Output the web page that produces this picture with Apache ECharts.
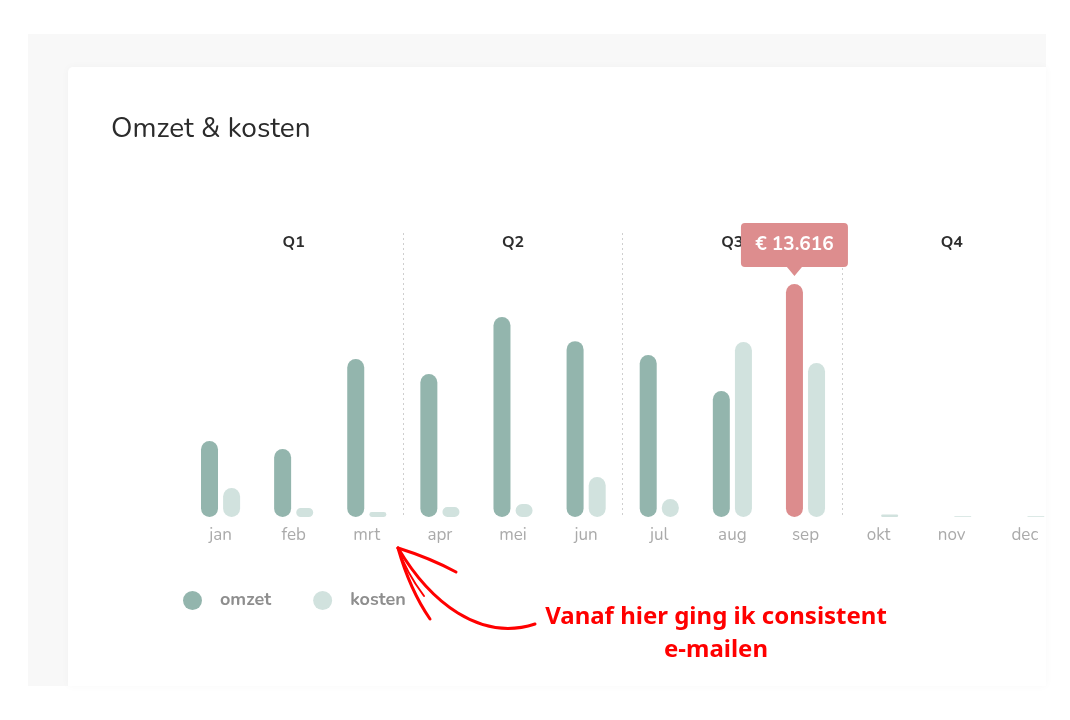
<!DOCTYPE html>
<html>
<head>
<meta charset="utf-8">
<script src="https://cdn.jsdelivr.net/npm/echarts@6/dist/echarts.min.js"></script>
<style>
html,body{margin:0;padding:0;background:#fff;}
#chart{width:1070px;height:720px;}
</style>
</head>
<body>
<div id="chart"></div>
<script>
const months = ['jan','feb','mrt','apr','mei','jun','jul','aug','sep','okt','nov','dec'];
const quarters = ['Q1','Q2','Q3','Q4'];
const omzet = [4440, 3970, 9230, 8360, 11690, 10280, 9470, 7360, 13616, 0, 0, 0];
const kosten = [1690, 530, 290, 580, 760, 2340, 1050, 10230, 9000, 150, 40, 40];
const highlightIndex = 8;
const seriesNames = ['omzet','kosten'];
const titleText = 'Omzet & kosten';
const noteLines = ['Vanaf hier ging ik consistent', 'e-mailen'];

const C_OMZET = '#93b5ad';
const C_KOSTEN = '#d1e2de';
const C_HI = '#dc8c8d';
const UI_FONT = 'Nunito, Lato, "Open Sans", sans-serif';

function fmtEuro(v){ return '€ ' + String(v).replace(/\B(?=(\d{3})+(?!\d))/g, '.'); }

const chart = echarts.init(document.getElementById('chart'), null, {renderer:'canvas'});
const arrowStroke = { fill: null, stroke: '#ff0000', lineWidth: 3, lineCap: 'round' };
const noteFont = 'bold 24px "Noto Sans", "Open Sans", sans-serif';
const option = {
  backgroundColor: '#ffffff',
  animation: false,
  textStyle: { fontFamily: UI_FONT },
  title: {
    text: titleText, left: 106, top: 111,
    textStyle: { fontFamily: UI_FONT, fontSize: 28, fontWeight: 'normal', color: '#2b2b2b' }
  },
  legend: {
    data: seriesNames, left: 178, top: 586, icon: 'circle',
    itemWidth: 19, itemHeight: 19, itemGap: 42,
    textStyle: { fontFamily: UI_FONT, fontSize: 18, fontWeight: 'bold', color: '#8e8e8e', padding: [0,0,0,13] }
  },
  grid: { left: 184, right: 8.6, top: 233, bottom: 203, containLabel: false },
  xAxis: [
    {
      type: 'category', data: months, position: 'bottom', boundaryGap: true,
      axisLine: { show: false }, axisTick: { show: false }, splitLine: { show: false },
      axisLabel: { color: '#aaaaaa', fontSize: 17, margin: 10, fontFamily: UI_FONT }
    },
    {
      type: 'category', data: quarters, position: 'top', boundaryGap: true,
      axisLine: { show: false }, axisTick: { show: false },
      axisLabel: { inside: true, margin: 2, color: '#2d2d2d', fontSize: 16, fontWeight: 'bold', fontFamily: UI_FONT },
      splitLine: { show: true, showMinLine: false, showMaxLine: false,
        lineStyle: { type: [2,3], color: '#cfcfcf', width: 1 } }
    }
  ],
  yAxis: { type: 'value', min: 0, max: 16600, show: false, splitLine: { show: false } },
  series: [
    {
      name: seriesNames[0], type: 'bar', xAxisIndex: 0, barWidth: 17, barGap: '30%',
      itemStyle: { color: C_OMZET, borderRadius: 9 },
      data: omzet.map((v, i) => i === highlightIndex ? { value: v, itemStyle: { color: C_HI } } : v),
      markPoint: {
        z: 10,
        data: [{
          coord: [highlightIndex, omzet[highlightIndex]],
          symbol: 'path://M4,0 H103 Q107,0 107,4 V40 Q107,44 103,44 H61 L53.5,53 L46,44 H4 Q0,44 0,40 V4 Q0,0 4,0 Z',
          symbolSize: [107, 53], symbolOffset: [0, -34.5],
          itemStyle: { color: '#dd8d8e' },
          label: { show: true, position: 'inside', offset: [0, -4.5], formatter: () => fmtEuro(omzet[highlightIndex]),
            color: '#ffffff', fontSize: 19, fontWeight: 'bold', fontFamily: UI_FONT }
        }]
      }
    },
    {
      name: seriesNames[1], type: 'bar', xAxisIndex: 0, barWidth: 17, barGap: '30%',
      itemStyle: { color: C_KOSTEN, borderRadius: 9 },
      data: kosten
    }
  ],
  graphic: [
    { type: 'rect', z: -20, silent: true, shape: { x: 28, y: 34, width: 1018, height: 652 }, style: { fill: '#f8f8f8' } },
    { type: 'rect', z: -19, silent: true, shape: { x: 68, y: 67, width: 978, height: 619, r: [5,0,0,0] },
      style: { fill: '#ffffff', shadowBlur: 8, shadowColor: 'rgba(0,0,0,0.03)' } },
    { type: 'bezierCurve', z: 50, silent: true,
      shape: { x1: 398, y1: 548, cpx1: 430, cpy1: 602, cpx2: 480, cpy2: 642, x2: 535, y2: 624 }, style: arrowStroke },
    { type: 'bezierCurve', z: 50, silent: true,
      shape: { x1: 398, y1: 548, cpx1: 406, cpy1: 572, x2: 424, y2: 596 }, style: { fill: null, stroke: '#ff0000', lineWidth: 2, lineCap: 'round' } },
    { type: 'bezierCurve', z: 50, silent: true,
      shape: { x1: 398, y1: 548, cpx1: 430, cpy1: 558, x2: 456, y2: 572 }, style: arrowStroke },
    { type: 'bezierCurve', z: 50, silent: true,
      shape: { x1: 398, y1: 548, cpx1: 410, cpy1: 590, x2: 430, y2: 619 }, style: arrowStroke },
    { type: 'text', z: 50, silent: true, style: { x: 716, y: 617, text: noteLines[0], textAlign: 'center', textVerticalAlign: 'middle',
      fill: '#ff0000', font: noteFont } },
    { type: 'text', z: 50, silent: true, style: { x: 716, y: 650, text: noteLines[1], textAlign: 'center', textVerticalAlign: 'middle',
      fill: '#ff0000', font: noteFont } }
  ]
};
chart.setOption(option);
</script>
</body>
</html>
